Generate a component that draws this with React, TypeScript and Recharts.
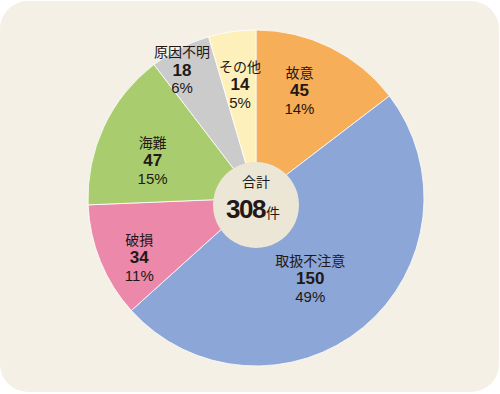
import React from "react";
import { PieChart, Pie, Cell } from "recharts";

const categories = ["故意", "取扱不注意", "破損", "海難", "原因不明", "その他"];
const counts = [45, 150, 34, 47, 18, 14];
const percents = ["14%", "49%", "11%", "15%", "6%", "5%"];
const colors = ["#F6AE58", "#8CA6D8", "#EC89AA", "#A9CD6E", "#CBCBCB", "#FEF0BA"];
const totalLabel = "合計";
const totalValue = "308";
const totalUnit = "件";

const data = categories.map((name, i) => ({ name, value: counts[i], pct: percents[i] }));
const centerData = [{ name: "center", value: 1 }];

// label placement (radius, angle in degrees) per slice
const labelPolar = [
  [116, 68],
  [97, -56],
  [131, -153],
  [110, 160],
  [148, 120],
  [115, 98],
];

const FONT = "'Noto Sans CJK JP', 'Noto Sans', sans-serif";
const NUM_FONT = "'Liberation Sans', Arial, sans-serif";

const renderLabel = (props: any) => {
  const { cx, cy, index } = props;
  const [r, a] = labelPolar[index];
  const rad = (a * Math.PI) / 180;
  const x = cx + r * Math.cos(rad);
  const y = cy - r * Math.sin(rad);
  const d = data[index];
  return (
    <g>
      <text x={x} y={y - 12.5} textAnchor="middle" fontFamily={FONT} fontSize={14} fill="#231815">
        {d.name}
      </text>
      <text x={x} y={y + 6} textAnchor="middle" fontFamily={NUM_FONT} fontWeight="bold" fontSize={17} fill="#231815">
        {d.value}
      </text>
      <text x={x} y={y + 23.5} textAnchor="middle" fontFamily={NUM_FONT} fontSize={15} fill="#231815">
        {d.pct}
      </text>
    </g>
  );
};

const renderCenter = (props: any) => {
  const { cx, cy } = props;
  return (
    <g>
      <text x={cx} y={cy - 18} textAnchor="middle" fontFamily={FONT} fontSize={14} fill="#231815">
        {totalLabel}
      </text>
      <text x={cx + 9} y={cy + 13} textAnchor="end" fontFamily={NUM_FONT} fontWeight="bold" fontSize={26} letterSpacing={-1.5} fill="#231815">
        {totalValue}
      </text>
      <text x={cx + 10} y={cy + 13} textAnchor="start" fontFamily={FONT} fontSize={14} fill="#231815">
        {totalUnit}
      </text>
    </g>
  );
};

export default function App() {
  return (
    <div style={{ position: "absolute", left: 0, top: 0, width: 500, height: 394, background: "#fff" }}>
      <div
        style={{
          position: "absolute",
          left: 0,
          top: 1,
          width: 499,
          height: 391,
          background: "#F4F0E5",
          borderRadius: 28,
        }}
      />
      <div style={{ position: "absolute", left: 0, top: 0 }}>
        <PieChart width={500} height={394} margin={{ top: 0, right: 0, bottom: 0, left: 0 }}>
          <Pie
            data={data}
            dataKey="value"
            nameKey="name"
            cx={256}
            cy={198}
            outerRadius={168}
            startAngle={90}
            endAngle={-270}
            stroke="#ffffff"
            strokeWidth={0.8}
            label={renderLabel}
            labelLine={false}
            isAnimationActive={false}
          >
            {data.map((d, i) => (
              <Cell key={d.name} fill={colors[i]} />
            ))}
          </Pie>
          <Pie
            data={centerData}
            dataKey="value"
            cx={256}
            cy={205}
            outerRadius={43}
            startAngle={90}
            endAngle={-270}
            stroke="none"
            fill="#EBE6D5"
            label={renderCenter}
            labelLine={false}
            isAnimationActive={false}
          />
        </PieChart>
      </div>
    </div>
  );
}
